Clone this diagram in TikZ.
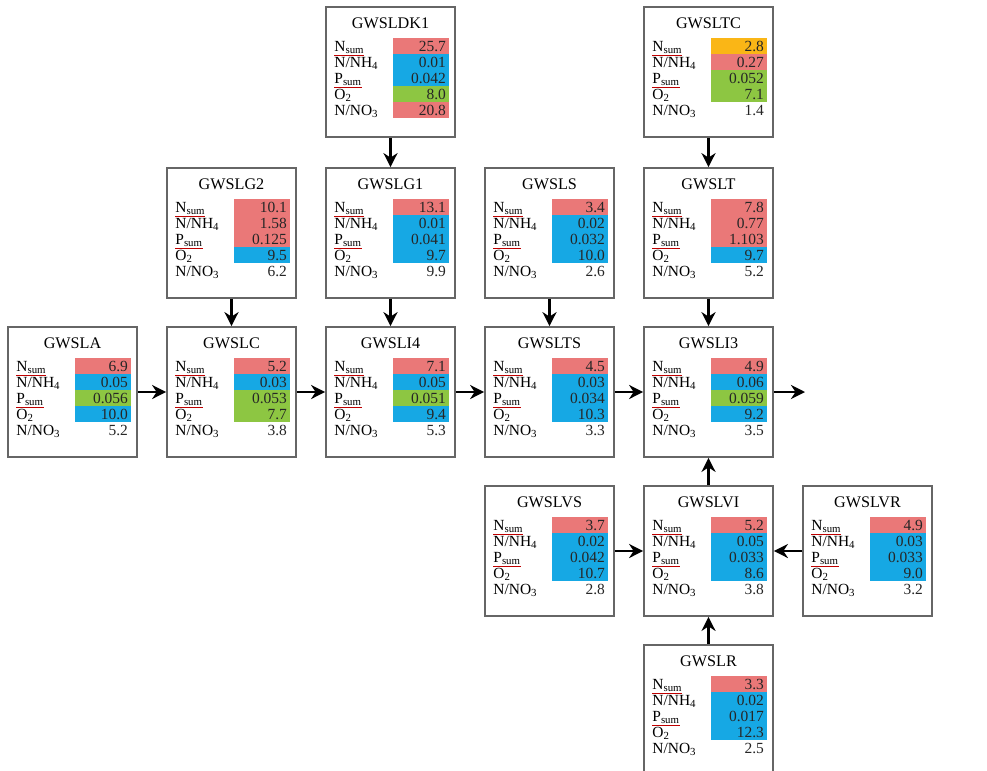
\documentclass[tikz,border=0pt]{standalone}
\usepackage{fontspec}
\setmainfont{Liberation Serif}
\usetikzlibrary{calc,arrows.meta}
\definecolor{cred}{RGB}{234,120,120}
\definecolor{cblue}{RGB}{22,168,228}
\definecolor{cgrn}{RGB}{141,198,66}
\definecolor{corg}{RGB}{250,182,22}
\def\sumlbl#1{{\color{red!75!black}\underline{\color{black}#1\textsubscript{sum}}}}
\def\stationbox(#1)(#2)#3#4{%
	\node[stn] (#1) at (#2) {};
	\node[ttl] (#1-t) at ($(#1.north)+(0,22)$) {#3};
	\foreach \l [count=\i] in {\sumlbl{N},N/NH\textsubscript{4},\sumlbl{P},O\textsubscript{2},N/NO\textsubscript{3}}
		\node[lbl] (#1-l\i) at ($(#1.north west)+(9,29+16*\i)$) {\l};
	\foreach \v/\c [count=\i] in {#4}{
		\fill[\c] ($(#1.north west)+(68,16+16*\i)$) rectangle ($(#1.north west)+(124,32+16*\i)$);
		\node[val] (#1-v\i) at ($(#1.north west)+(121,29+16*\i)$) {\v};
	}
}

\begin{document}
\begin{tikzpicture}[x=0.025cm, y=-0.025cm,
	stn/.style={draw=black!60, line width=1.2pt, fill=white, minimum width=3.225cm, minimum height=3.25cm, inner sep=0},
	ttl/.style={anchor=base, inner sep=0, font=\fontsize{11.5}{13}\selectfont},
	lbl/.style={anchor=base west, inner sep=0, font=\fontsize{11}{12}\selectfont},
	val/.style={anchor=base east, inner sep=0, text=black!85, font=\fontsize{11}{12}\selectfont},
	flow/.style={line width=2pt, -{Stealth[length=10pt,width=10pt]}}]
		%%%%% START %%%%%
		\useasboundingbox[fill=white] (0,0) rectangle (987,770);
		
		% top row
		\stationbox(ldk1)(390.5,72){GWSLDK1}{25.7/cred, 0.01/cblue, 0.042/cblue, 8.0/cgrn, 20.8/cred}
		\stationbox(ltc)(708.5,72){GWSLTC}{2.8/corg, 0.27/cred, 0.052/cgrn, 7.1/cgrn, 1.4/white}
		
		% second row
		\stationbox(lg2)(231.5,233){GWSLG2}{10.1/cred, 1.58/cred, 0.125/cred, 9.5/cblue, 6.2/white}
		\stationbox(lg1)(390.5,233){GWSLG1}{13.1/cred, 0.01/cblue, 0.041/cblue, 9.7/cblue, 9.9/white}
		\stationbox(ls)(549.5,233){GWSLS}{3.4/cred, 0.02/cblue, 0.032/cblue, 10.0/cblue, 2.6/white}
		\stationbox(lt)(708.5,233){GWSLT}{7.8/cred, 0.77/cred, 1.103/cred, 9.7/cblue, 5.2/white}
		
		% main line
		\stationbox(la)(72.5,392){GWSLA}{6.9/cred, 0.05/cblue, 0.056/cgrn, 10.0/cblue, 5.2/white}
		\stationbox(lc)(231.5,392){GWSLC}{5.2/cred, 0.03/cblue, 0.053/cgrn, 7.7/cgrn, 3.8/white}
		\stationbox(li4)(390.5,392){GWSLI4}{7.1/cred, 0.05/cblue, 0.051/cgrn, 9.4/cblue, 5.3/white}
		\stationbox(lts)(549.5,392){GWSLTS}{4.5/cred, 0.03/cblue, 0.034/cblue, 10.3/cblue, 3.3/white}
		\stationbox(li3)(708.5,392){GWSLI3}{4.9/cred, 0.06/cblue, 0.059/cgrn, 9.2/cblue, 3.5/white}
		\coordinate (out) at (805,392);
		
		% lower rows
		\stationbox(lvs)(549.5,551){GWSLVS}{3.7/cred, 0.02/cblue, 0.042/cblue, 10.7/cblue, 2.8/white}
		\stationbox(lvi)(708.5,551){GWSLVI}{5.2/cred, 0.05/cblue, 0.033/cblue, 8.6/cblue, 3.8/white}
		\stationbox(lvr)(867.5,551){GWSLVR}{4.9/cred, 0.03/cblue, 0.033/cblue, 9.0/cblue, 3.2/white}
		\stationbox(lr)(708.5,710){GWSLR}{3.3/cred, 0.02/cblue, 0.017/cblue, 12.3/cblue, 2.5/white}
		
		% flows
		\draw[flow] (ldk1) -- (lg1);
		\draw[flow] (lg1) -- (li4);
		\draw[flow] (lg2) -- (lc);
		\draw[flow] (ls) -- (lts);
		\draw[flow] (ltc) -- (lt);
		\draw[flow] (lt) -- (li3);
		\draw[flow] (la) -- (lc);
		\draw[flow] (lc) -- (li4);
		\draw[flow] (li4) -- (lts);
		\draw[flow] (lts) -- (li3);
		\draw[flow] (li3) -- (out);
		\draw[flow] (lvs) -- (lvi);
		\draw[flow] (lvr) -- (lvi);
		\draw[flow] (lr) -- (lvi);
		\draw[flow] (lvi) -- (li3);
		
		%%%%% END %%%%%
\end{tikzpicture}
\end{document}
